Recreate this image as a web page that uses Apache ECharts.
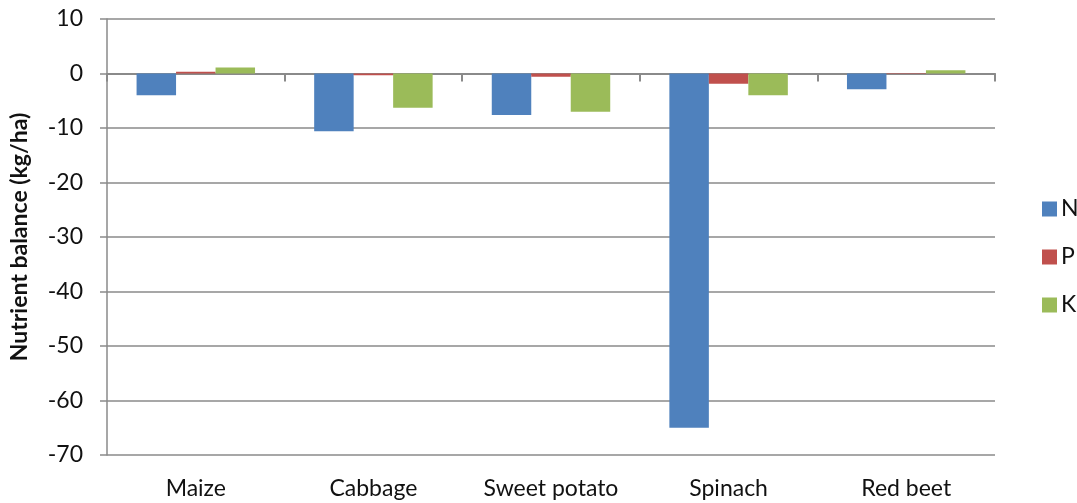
<!DOCTYPE html>
<html>
<head>
<meta charset="utf-8">
<script src="https://cdn.jsdelivr.net/npm/echarts@6/dist/echarts.min.js"></script>
<style>
  html, body { margin: 0; padding: 0; background: #fff; }
  #chart { width: 1077px; height: 503px; }
</style>
</head>
<body>
<div id="chart"></div>
<script>
// Crops and nutrient balances (kg/ha)
const crops = ['Maize', 'Cabbage', 'Sweet potato', 'Spinach', 'Red beet'];
const nBalance = [-4.0, -10.6, -7.6, -65.0, -2.9];
const pBalance = [0.3, -0.3, -0.6, -1.9, -0.1];
const kBalance = [1.1, -6.3, -7.0, -4.0, 0.6];
const yTicks = { min: -70, max: 10, step: 10 };

const gridColor = '#8a8a8a';
const textColor = '#111';
const fontFamily = 'Lato, "Open Sans", sans-serif';

const chart = echarts.init(document.getElementById('chart'));

function barSeries(name, data, color) {
  return {
    name: name,
    type: 'bar',
    data: data,
    xAxisIndex: 0,
    barGap: '0%',
    barCategoryGap: '33.3%',
    itemStyle: { color: color },
    emphasis: { disabled: true }
  };
}

chart.setOption({
  animation: false,
  textStyle: { fontFamily: fontFamily },
  grid: { left: 107, right: 82, top: 19, bottom: 48 },
  legend: {
    orient: 'vertical',
    left: 1037,
    top: 192,
    itemWidth: 15,
    itemHeight: 15,
    itemGap: 24,
    icon: 'rect',
    textStyle: { fontSize: 23, lineHeight: 24, color: textColor, fontFamily: fontFamily, padding: [0, 0, 0, -1] },
    data: ['N', 'P', 'K']
  },
  xAxis: [
    {
      // category labels along the bottom edge
      type: 'category',
      data: crops,
      position: 'bottom',
      axisLine: { show: false, onZero: false },
      axisTick: { show: false },
      axisLabel: { margin: 22, fontSize: 23, color: textColor, fontFamily: fontFamily },
      splitLine: { show: false }
    },
    {
      // category axis line drawn through zero with boundary ticks
      type: 'category',
      data: crops,
      position: 'bottom',
      axisLine: { show: true, onZero: true, lineStyle: { color: gridColor, width: 2 } },
      axisTick: { show: true, length: 8, lineStyle: { color: gridColor, width: 2 } },
      axisLabel: { show: false },
      splitLine: { show: false }
    }
  ],
  yAxis: {
    type: 'value',
    min: yTicks.min,
    max: yTicks.max,
    interval: yTicks.step,
    name: 'Nutrient balance (kg/ha)',
    nameLocation: 'middle',
    nameGap: 76,
    nameTextStyle: { fontSize: 23, fontWeight: 'bold', color: textColor, fontFamily: fontFamily },
    axisLine: { show: true, lineStyle: { color: gridColor, width: 1.5 } },
    axisTick: { show: true, length: 7, lineStyle: { color: gridColor, width: 1.5 } },
    axisLabel: { margin: 24, fontSize: 23, color: textColor, fontFamily: fontFamily },
    splitLine: { show: true, lineStyle: { color: gridColor, width: 1.5 } }
  },
  series: [
    barSeries('N', nBalance, '#4f81bd'),
    barSeries('P', pBalance, '#c0504d'),
    barSeries('K', kBalance, '#9bbb59')
  ]
});
</script>
</body>
</html>
